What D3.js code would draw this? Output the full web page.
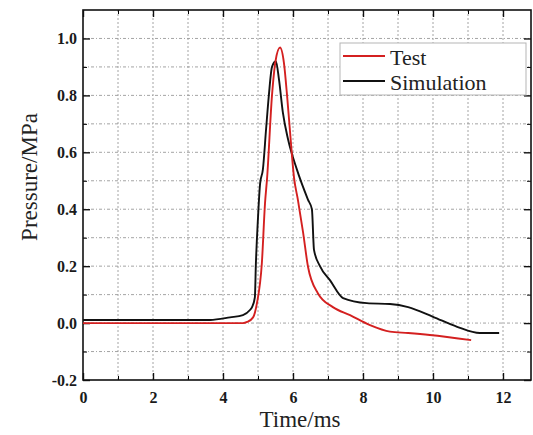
<!DOCTYPE html>
<html>
<head>
<meta charset="utf-8">
<script src="https://cdn.jsdelivr.net/npm/d3@7"></script>
<style>
  body { margin: 0; background: #fff; }
  svg { display: block; }
</style>
</head>
<body>
<div id="chart"></div>
<script>
// Test curve (time ms, pressure MPa)
const testTime = [0, 4.57, 4.69, 4.86, 4.97, 5.11, 5.2, 5.26, 5.4, 5.5, 5.63, 5.74, 5.83, 5.91, 6.03, 6.14, 6.29, 6.43, 6.71, 7.14, 7.63, 8.2, 8.77, 9.29, 9.91, 11.09]
const testPressure = [0, 0, 0.004, 0.02, 0.07, 0.21, 0.42, 0.51, 0.8, 0.92, 0.968, 0.915, 0.8, 0.68, 0.51, 0.433, 0.317, 0.197, 0.105, 0.056, 0.028, -0.007, -0.03, -0.035, -0.042, -0.06]

// Simulation curve
const simTime = [0, 3.63, 4.2, 4.57, 4.77, 4.83, 4.91, 4.94, 5.0, 5.06, 5.14, 5.23, 5.31, 5.4, 5.51, 5.6, 5.71, 5.86, 6.11, 6.43, 6.54, 6.6, 6.77, 7.06, 7.43, 8.11, 8.77, 9.29, 10.0, 10.69, 11.34, 11.89]
const simPressure = [0.011, 0.011, 0.02, 0.028, 0.046, 0.056, 0.09, 0.21, 0.37, 0.49, 0.54, 0.68, 0.8, 0.9, 0.92, 0.855, 0.74, 0.645, 0.54, 0.433, 0.4, 0.257, 0.2, 0.15, 0.088, 0.07, 0.067, 0.056, 0.022, -0.013, -0.035, -0.035]

const xTicks = [0, 2, 4, 6, 8, 10, 12]
const yTicks = [-0.2, 0, 0.2, 0.4, 0.6, 0.8, 1.0]
const seriesNames = ["Test", "Simulation"]
const seriesColors = ["#d42020", "#111111"]

const WIDTH = 533, HEIGHT = 435
const margin = {top: 10, right: 2, bottom: 55, left: 83}
const w = WIDTH - margin.left - margin.right
const h = HEIGHT - margin.top - margin.bottom

const svg = d3.select("#chart").append("svg")
    .attr("width", WIDTH)
    .attr("height", HEIGHT)

const g = svg.append("g")
    .attr("transform", "translate(" + margin.left + "," + margin.top + ")")

const x = d3.scaleLinear().domain([0, 12.8]).range([0, w])
const y = d3.scaleLinear().domain([-0.2, 1.1]).range([h, 0])

const xMinor = d3.range(0, 13, 1)
const yMinor = d3.range(-2, 11, 1).map(d => d / 10)

// dotted grid
g.append("g").selectAll("line")
    .data(xMinor.filter(d => d > 0))
    .enter().append("line")
    .attr("x1", d => x(d)).attr("x2", d => x(d))
    .attr("y1", 0).attr("y2", h)
    .attr("stroke", "#9a9a9a")
    .attr("stroke-width", 0.9)
    .attr("stroke-dasharray", "2,2")

g.append("g").selectAll("line")
    .data(yMinor.filter(d => d > -0.2))
    .enter().append("line")
    .attr("x1", 0).attr("x2", w)
    .attr("y1", d => y(d)).attr("y2", d => y(d))
    .attr("stroke", "#9a9a9a")
    .attr("stroke-width", 0.9)
    .attr("stroke-dasharray", "3,2,1,2")

// inward ticks on all four sides
function ticks(axisFn, scale, major, minor, transform, labels) {
    const minorOnly = minor.filter(m => !major.some(v => Math.abs(v - m) < 1e-9))
    g.append("g").attr("transform", transform)
        .call(axisFn(scale).tickValues(minorOnly).tickSize(-4).tickFormat(""))
        .call(a => a.select(".domain").remove())
    const ax = g.append("g").attr("transform", transform)
        .call(axisFn(scale).tickValues(major).tickSize(-7)
            .tickFormat(labels ? labels : ""))
    ax.select(".domain").remove()
    ax.selectAll("line").attr("stroke", "#111").attr("stroke-width", 1.4)
    return ax
}

const xb = ticks(d3.axisBottom, x, xTicks, xMinor, "translate(0," + h + ")", d => d)
xb.selectAll("text")
    .attr("y", 12)
    .attr("font-family", "Liberation Serif")
    .attr("font-weight", "bold")
    .attr("font-size", "16px")
    .attr("fill", "#1a1a1a")

const yl = ticks(d3.axisLeft, y, yTicks, yMinor, "translate(0,0)", d3.format(".1f"))
yl.selectAll("text")
    .attr("x", -6)
    .attr("font-family", "Liberation Serif")
    .attr("font-weight", "bold")
    .attr("font-size", "16px")
    .attr("fill", "#1a1a1a")
    .text(d => d3.format(".1f")(d).replace("−", "-"))

ticks(d3.axisTop, x, xTicks, xMinor, "translate(0,0)", null)
ticks(d3.axisRight, y, yTicks, yMinor, "translate(" + w + ",0)", null)

// frame
g.append("rect")
    .attr("width", w).attr("height", h)
    .attr("fill", "none")
    .attr("stroke", "#111")
    .attr("stroke-width", 1.6)

// curves
const line = d3.line()
    .x(d => x(d[0]))
    .y(d => y(d[1]))
    .curve(d3.curveMonotoneX)

const series = [
    d3.zip(testTime, testPressure),
    d3.zip(simTime, simPressure)
]

g.selectAll(".curve")
    .data([series[1], series[0]])
    .enter().append("path")
    .attr("class", "curve")
    .attr("d", line)
    .attr("fill", "none")
    .attr("stroke", (d, i) => i === 0 ? seriesColors[1] : seriesColors[0])
    .attr("stroke-width", 1.9)

// legend
const lg = svg.append("g").attr("transform", "translate(340,43)")
lg.append("rect")
    .attr("width", 186).attr("height", 52)
    .attr("fill", "#fff")
    .attr("stroke", "#b5b5b5")
    .attr("stroke-width", 1)

seriesNames.forEach((name, i) => {
    lg.append("line")
        .attr("x1", 3).attr("x2", 45)
        .attr("y1", 13 + i * 25).attr("y2", 13 + i * 25)
        .attr("stroke", seriesColors[i])
        .attr("stroke-width", 1.8)
    lg.append("text")
        .attr("x", 50)
        .attr("y", 22 + i * 25)
        .attr("font-family", "Liberation Serif")
        .attr("font-size", "22px")
        .attr("fill", "#222")
        .text(name)
})

// axis labels
svg.append("text")
    .attr("x", 300)
    .attr("y", 427)
    .attr("text-anchor", "middle")
    .attr("font-family", "Liberation Serif")
    .attr("font-size", "23px")
    .attr("fill", "#222")
    .text("Time/ms")

svg.append("text")
    .attr("transform", "translate(37,177) rotate(-90)")
    .attr("text-anchor", "middle")
    .attr("font-family", "Liberation Serif")
    .attr("font-size", "23px")
    .attr("fill", "#222")
    .text("Pressure/MPa")
</script>
</body>
</html>
